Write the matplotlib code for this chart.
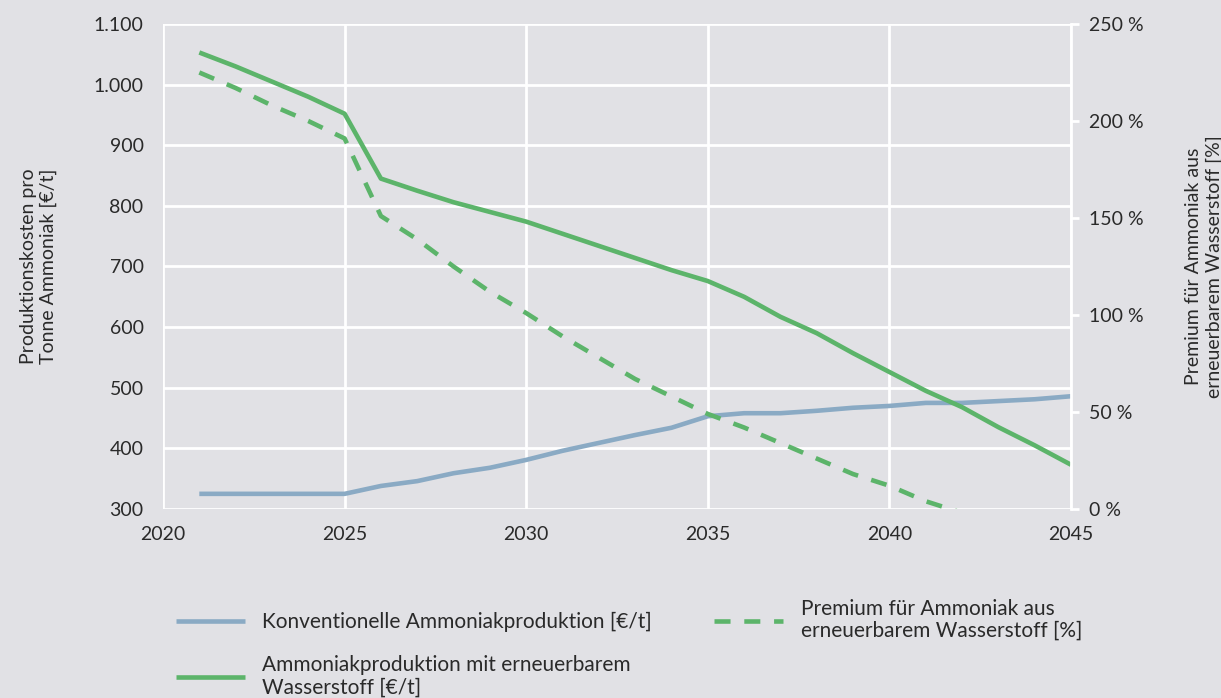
import numpy as np
import matplotlib.pyplot as plt
from matplotlib.ticker import FuncFormatter, MultipleLocator

# data
years = list(range(2021, 2046))
konventionell = [325, 325, 325, 325, 325, 338, 346, 359, 368, 381, 396, 409, 422,
                 434, 453, 458, 458, 462, 467, 470, 475, 475, 478, 481, 486]
erneuerbar = [1053, 1030, 1005, 980, 952, 845, 825, 806, 790, 774, 754, 734, 714,
              694, 676, 650, 617, 590, 557, 526, 495, 468, 435, 405, 373]
premium_years = list(range(2021, 2043))
premium = [225, 217, 208, 200, 191, 151, 139, 125, 112, 101, 89, 78, 67,
           58, 49, 42, 34, 26, 18, 12, 4, -2]

BG = "#e1e1e5"
BLUE = "#8aaac4"
GREEN = "#5cb46a"
TXT = "#2a2a2a"

plt.rcParams["font.family"] = ["Lato", "DejaVu Sans"]

fig = plt.figure(figsize=(12.21, 6.98), dpi=100, facecolor=BG)
ax = fig.add_axes([163 / 1221, 1 - 509 / 698, (1071 - 163) / 1221, (509 - 24) / 698])
ax.set_facecolor(BG)
ax2 = ax.twinx()

l1, = ax.plot(years, konventionell, color=BLUE, lw=3.3, solid_capstyle="butt")
l2, = ax.plot(years, erneuerbar, color=GREEN, lw=3.3, solid_capstyle="butt")
l3, = ax2.plot(premium_years, premium, color=GREEN, lw=3.3, ls=(0, (3.5, 3)))

ax.set_xlim(2020, 2045)
ax.set_ylim(300, 1100)
ax2.set_ylim(0, 250)
ax.xaxis.set_major_locator(MultipleLocator(5))
ax.yaxis.set_major_locator(MultipleLocator(100))
ax2.yaxis.set_major_locator(MultipleLocator(50))

ax.yaxis.set_major_formatter(FuncFormatter(lambda v, p: f"{int(v):,}".replace(",", ".")))
ax2.yaxis.set_major_formatter(FuncFormatter(lambda v, p: f"{int(v)} %"))

ax.grid(True, color="white", lw=2)
ax2.grid(False)
for a in (ax, ax2):
    for s in a.spines.values():
        s.set_visible(False)
ax2.spines["right"].set_visible(True)
ax2.spines["right"].set_color("white")
ax2.spines["right"].set_linewidth(2)

ax.tick_params(axis="y", length=0, labelsize=14, colors=TXT, pad=14)
ax.tick_params(axis="x", length=0, labelsize=14, colors=TXT, pad=12)
ax2.tick_params(axis="y", length=6, width=2, color="white", labelsize=14,
                labelcolor=TXT, pad=7)

ax.set_ylabel("Produktionskosten pro\nTonne Ammoniak [€/t]", fontsize=14,
              color=TXT, labelpad=26)
ax2.set_ylabel("Premium für Ammoniak aus\nerneuerbarem Wasserstoff [%]", fontsize=14,
               color=TXT, labelpad=30)

leg = fig.legend([l1, l2, l3],
                 ["Konventionelle Ammoniakproduktion [€/t]",
                  "Ammoniakproduktion mit erneuerbarem\nWasserstoff [€/t]",
                  "Premium für Ammoniak aus\nerneuerbarem Wasserstoff [%]"],
                 ncol=2, loc="upper left", bbox_to_anchor=(157 / 1221, 1 - 580 / 698),
                 frameon=False, fontsize=15, labelcolor=TXT, handlelength=3.3,
                 handletextpad=0.85, columnspacing=3.0, labelspacing=1.1,
                 alignment="left")
for t in leg.get_texts():
    t.set_linespacing(1.15)

fig.savefig("out.png", dpi=100, facecolor=BG)
